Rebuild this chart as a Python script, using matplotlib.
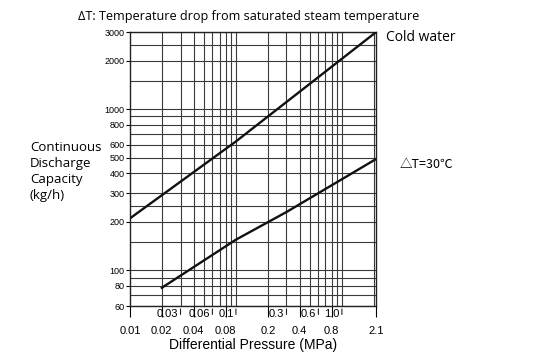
import numpy as np
import matplotlib.pyplot as plt

plt.rcParams['font.family'] = ['Liberation Sans', 'DejaVu Sans']

# data
pressure_cold = [0.01, 0.1, 2.1]
capacity_cold = [210, 630, 3000]
pressure_dt30 = [0.02, 0.1, 0.3, 2.1]
capacity_dt30 = [78, 155, 230, 490]

ytick_vals = [60, 80, 100, 200, 300, 400, 500, 600, 800, 1000, 2000, 3000]
ygrid_vals = [60, 70, 80, 90, 100, 150, 200, 250, 300, 400, 500, 600, 700,
              800, 900, 1000, 1500, 2000, 2500, 3000]
xgrid_vals = [0.02, 0.03, 0.04, 0.05, 0.06, 0.07, 0.08, 0.09, 0.1,
              0.2, 0.3, 0.4, 0.5, 0.6, 0.7, 0.8, 0.9, 1.0, 2.0]
xlab_low = [0.01, 0.02, 0.04, 0.08, 0.2, 0.4, 0.8, 2.1]
xlab_low_txt = ['0.01', '0.02', '0.04', '0.08', '0.2', '0.4', '0.8', '2.1']
xlab_up = [0.03, 0.06, 0.1, 0.3, 0.6, 1.0]
xlab_up_txt = ['0.03', '0.06', '0.1', '0.3', '0.6', '1.0']

fig = plt.figure(figsize=(5.53, 3.61), dpi=100)
ax = fig.add_axes([0.235, 0.152, 0.445, 0.759])
ax.set_xscale('log')
ax.set_yscale('log')
ax.set_xlim(0.01, 2.1)
ax.set_ylim(60, 3000)

# grid
for v in ygrid_vals:
    ax.axhline(v, color='#3a3a3a', lw=0.8, zorder=1)
for v in xgrid_vals:
    ax.axvline(v, color='#3a3a3a', lw=0.8, zorder=1)

ax.plot(pressure_cold, capacity_cold, color='#111111', lw=1.7, zorder=3)
ax.plot(pressure_dt30, capacity_dt30, color='#111111', lw=1.7, zorder=3)

for s in ax.spines.values():
    s.set_color('#222222')
    s.set_linewidth(1.0)

ax.set_yticks(ytick_vals)
ax.set_yticklabels([str(v) for v in ytick_vals], fontsize=6.5)
ax.yaxis.set_minor_locator(plt.NullLocator())
ax.tick_params(axis='y', length=3, width=0.8, pad=1)

# x labels in two staggered rows
ax.set_xticks(xlab_low)
ax.set_xticklabels(xlab_low_txt, fontsize=8)
ax.xaxis.set_minor_locator(plt.NullLocator())
ax.tick_params(axis='x', length=8, width=0.8, pad=6)
for x, t in zip(xlab_up, xlab_up_txt):
    ax.annotate(t, xy=(x, 0), xycoords=('data', 'axes fraction'),
                xytext=(-1.5, -2), textcoords='offset points',
                ha='right', va='top', fontsize=8)
    ax.annotate('', xy=(x, 0), xycoords=('data', 'axes fraction'),
                xytext=(0, -8), textcoords='offset points',
                arrowprops=dict(arrowstyle='-', lw=0.8, color='#222222'))

ax.set_xlabel('Differential Pressure (MPa)', fontsize=10, labelpad=2)

fig.text(0.141, 0.955, 'ΔT: Temperature drop from saturated steam temperature',
         fontsize=9.1, family=['Open Sans', 'DejaVu Sans'], va='center')
fig.text(0.054, 0.525, 'Continuous\nDischarge\nCapacity\n(kg/h)', fontsize=9.5,
         family=['Open Sans', 'DejaVu Sans'], va='center', ha='left',
         linespacing=1.32)
ax.annotate('Cold water', xy=(1.0, 3000), xycoords=('axes fraction', 'data'),
            xytext=(7, -4), textcoords='offset points', va='center',
            fontsize=10, family=['Open Sans', 'DejaVu Sans'])
ax.annotate('△T=30℃', xy=(1.0, 490), xycoords=('axes fraction', 'data'),
            xytext=(17, -4), textcoords='offset points', va='center',
            fontsize=9, family=['Noto Sans CJK JP', 'DejaVu Sans'])

fig.savefig('out.png', dpi=100)
